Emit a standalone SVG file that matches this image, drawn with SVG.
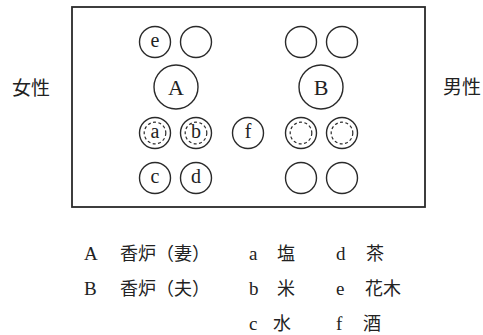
<svg xmlns="http://www.w3.org/2000/svg" width="483" height="335" viewBox="0 0 483 335">
<style>
  .frame{fill:none;stroke:#2a2a2a;stroke-width:1.8}
  .c{fill:#fff;stroke:#2a2a2a;stroke-width:1.4}
  .d{fill:none;stroke:#2a2a2a;stroke-width:1.2;stroke-dasharray:3 2.4}
  .l{font-family:"Liberation Serif",serif;font-size:20px;fill:#222;text-anchor:middle}
  .L{font-family:"Liberation Serif",serif;font-size:22px;fill:#222;text-anchor:middle}
  .lg{font-family:"Liberation Serif",serif;font-size:19px;fill:#222}
  .cj{font-family:"Noto Sans CJK JP","Noto Sans CJK SC",sans-serif;font-size:18px;fill:#222}
  .side{font-family:"Noto Sans CJK JP","Noto Sans CJK SC",sans-serif;font-size:19px;fill:#222}
</style>
<rect width="483" height="335" fill="#fff"/>
<g id="frame"><rect class="frame" x="72" y="7" width="353" height="200"/></g>
<g id="side-labels">
  <text class="side" x="12" y="95">女性</text>
  <text class="side" x="443" y="94">男性</text>
</g>
<g id="node-e"><circle class="c" cx="155" cy="42" r="15.5"/><text class="l" x="155" y="47">e</text></g>
<g id="node-e2"><circle class="c" cx="196" cy="42" r="15.5"/></g>
<g id="node-r1a"><circle class="c" cx="301" cy="42" r="15.5"/></g>
<g id="node-r1b"><circle class="c" cx="342" cy="42" r="15.5"/></g>
<g id="node-A"><circle class="c" cx="176" cy="87" r="22"/><text class="L" x="176" y="94.5">A</text></g>
<g id="node-B"><circle class="c" cx="321" cy="87" r="22"/><text class="L" x="321" y="94.5">B</text></g>
<g id="node-a"><circle class="c" cx="155" cy="133" r="15.5"/><circle class="d" cx="155" cy="133" r="10.8"/><text class="l" x="155" y="138">a</text></g>
<g id="node-b"><circle class="c" cx="196" cy="133" r="15.5"/><circle class="d" cx="196" cy="133" r="10.8"/><text class="l" x="196" y="138">b</text></g>
<g id="node-f"><circle class="c" cx="248" cy="133" r="15.5"/><text class="l" x="248" y="138">f</text></g>
<g id="node-r3a"><circle class="c" cx="301" cy="133" r="15.5"/><circle class="d" cx="301" cy="133" r="10.8"/></g>
<g id="node-r3b"><circle class="c" cx="342" cy="133" r="15.5"/><circle class="d" cx="342" cy="133" r="10.8"/></g>
<g id="node-c"><circle class="c" cx="155" cy="178" r="15.5"/><text class="l" x="155" y="183">c</text></g>
<g id="node-d"><circle class="c" cx="196" cy="178" r="15.5"/><text class="l" x="196" y="183">d</text></g>
<g id="node-r4a"><circle class="c" cx="301" cy="178" r="15.5"/></g>
<g id="node-r4b"><circle class="c" cx="342" cy="178" r="15.5"/></g>
<g id="legend">
  <text class="lg" x="84" y="260">A</text><text class="cj" x="120" y="260">香炉（妻）</text>
  <text class="lg" x="249" y="260">a</text><text class="cj" x="277" y="260">塩</text>
  <text class="lg" x="336" y="260">d</text><text class="cj" x="366" y="260">茶</text>
  <text class="lg" x="84" y="295">B</text><text class="cj" x="120" y="295">香炉（夫）</text>
  <text class="lg" x="249" y="295">b</text><text class="cj" x="277" y="295">米</text>
  <text class="lg" x="336" y="295">e</text><text class="cj" x="365" y="295">花木</text>
  <text class="lg" x="249" y="330">c</text><text class="cj" x="273" y="330">水</text>
  <text class="lg" x="336" y="330">f</text><text class="cj" x="363" y="330">酒</text>
</g>
</svg>
